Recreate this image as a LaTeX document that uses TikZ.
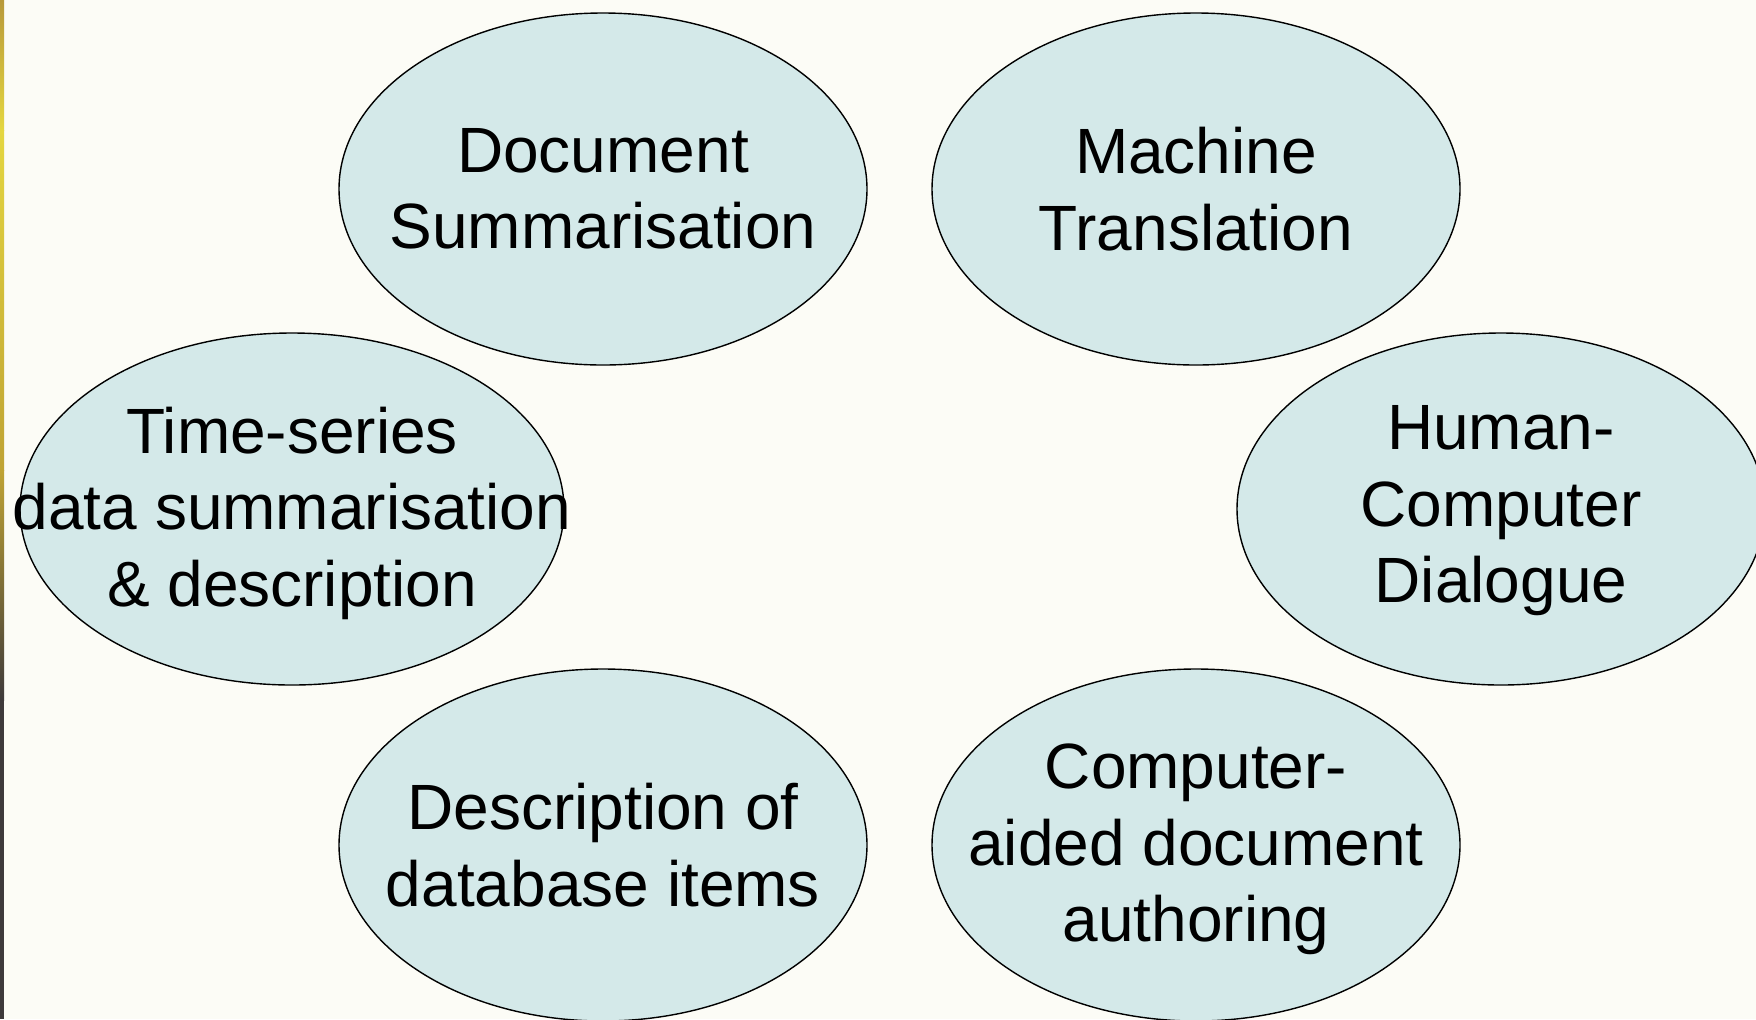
\documentclass[tikz,border=0pt]{standalone}
\usepackage{fontspec}
\setmainfont{Liberation Sans}
\usetikzlibrary{shapes.geometric}

\definecolor{bubble}{HTML}{D4E9E9}
\definecolor{paper}{HTML}{FCFCF6}
\definecolor{edgegold}{HTML}{B8993A}
\definecolor{edgeyellow}{HTML}{E4D640}
\definecolor{edgedark}{HTML}{3E3A3B}

\begin{document}
\begin{tikzpicture}[x=0.5pt,y=-0.5pt,
  app/.style={ellipse,draw=black,line width=0.7pt,fill=bubble,inner sep=0pt,
    minimum width=264pt,minimum height=176pt},
  apptext/.style={align=center,inner sep=0pt,
    font=\fontsize{32}{38.2}\selectfont}]
\useasboundingbox (0,0) rectangle (1756,1019);
\fill[paper] (0,0) rectangle (1756,1019);
\clip (0,0) rectangle (1756,1019);

% slide edge
\shade[top color=edgegold,bottom color=edgeyellow] (0,0) rectangle (4,130);
\shade[top color=edgeyellow,bottom color=edgegold!90!yellow] (0,130) rectangle (4,470);
\shade[top color=edgegold!90!yellow,bottom color=edgedark] (0,470) rectangle (4,700);
\fill[edgedark] (0,700) rectangle (4,1019);

% application areas
\node[app] (docsum) at (603,189) {};
\node[app] (mt) at (1196,189) {};
\node[app,minimum width=272pt] (tsdata) at (292,509) {};
\node[app] (hcd) at (1501,509) {};
\node[app] (dbitems) at (603,845) {};
\node[app] (cadoc) at (1196,845) {};

\node[apptext] (docsum-t) at (docsum) {Document\\Summarisation};
\node[apptext] (mt-t) at (mt) {Machine\\Translation};
\node[apptext,yshift=-2.2pt] (tsdata-t) at (tsdata) {Time-series\\data summarisation\\\& description};
\node[apptext,yshift=-1pt] (hcd-t) at (hcd) {Human-\\Computer\\Dialogue};
\node[apptext] (dbitems-t) at (dbitems) {Description of\\database items};
\node[apptext,yshift=-2.2pt] (cadoc-t) at (cadoc) {Computer-\\aided document\\authoring};
\end{tikzpicture}
\end{document}
